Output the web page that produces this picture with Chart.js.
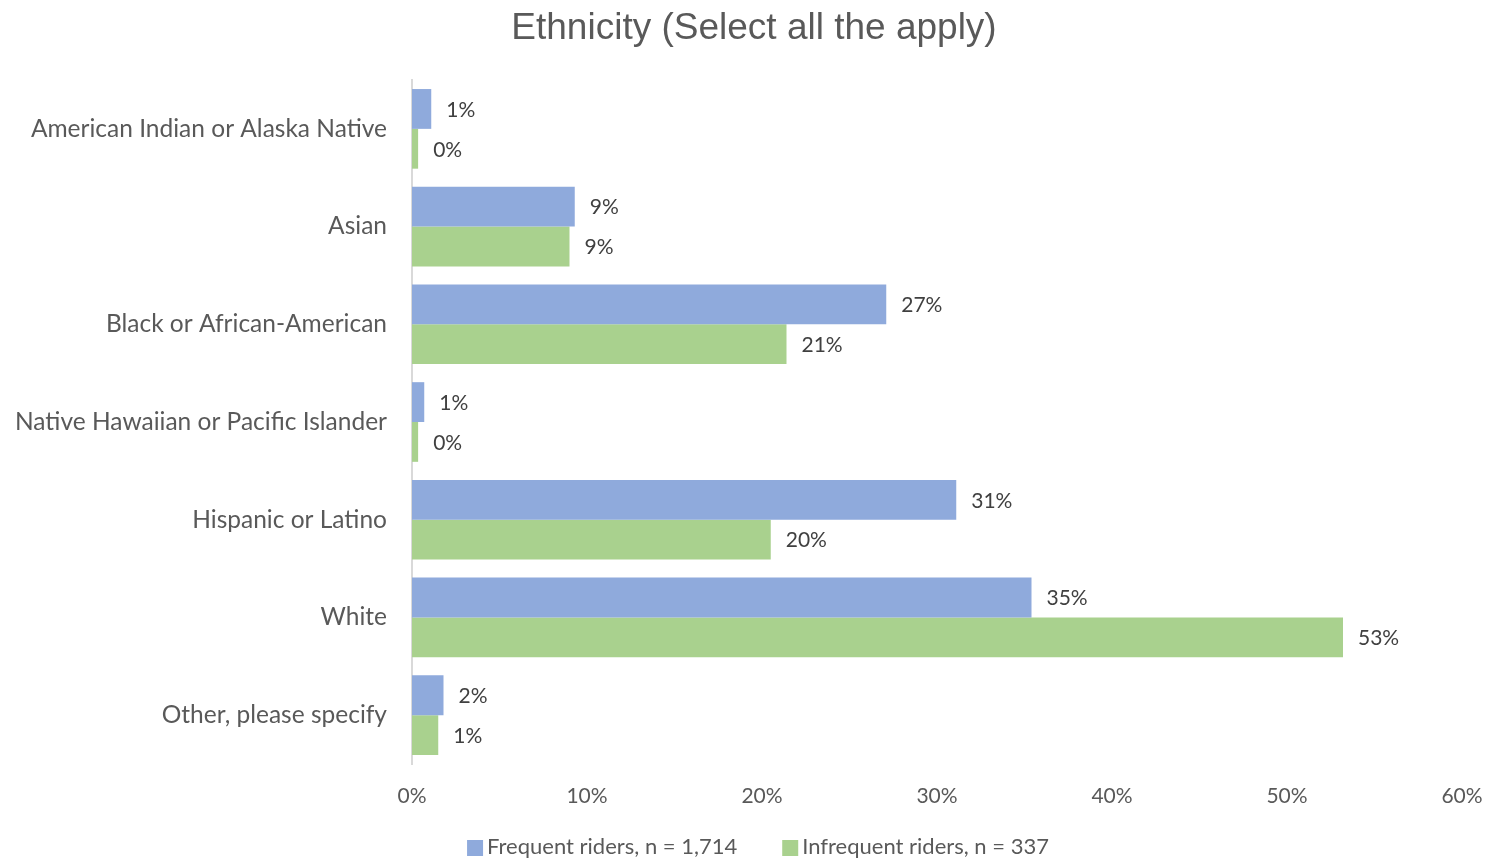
<!DOCTYPE html>
<html>
<head>
<meta charset="utf-8">
<script src="https://cdn.jsdelivr.net/npm/chart.js@4"></script>
<style>
html,body{margin:0;padding:0;background:#fff;}
#wrap{width:1491px;height:859px;position:relative;}
</style>
</head>
<body>
<div id="wrap"><canvas id="c" width="1491" height="859"></canvas></div>
<script>
const categories = [
  "American Indian or Alaska Native",
  "Asian",
  "Black or African-American",
  "Native Hawaiian or Pacific Islander",
  "Hispanic or Latino",
  "White",
  "Other, please specify"
];
const frequentRiders = [1.1, 9.3, 27.1, 0.7, 31.1, 35.4, 1.8];
const infrequentRiders = [0.35, 9.0, 21.4, 0.35, 20.5, 53.2, 1.5];
const frequentLabels = ["1%", "9%", "27%", "1%", "31%", "35%", "2%"];
const infrequentLabels = ["0%", "9%", "21%", "0%", "20%", "53%", "1%"];
const seriesNames = ["Frequent riders, n = 1,714", "Infrequent riders, n = 337"];
const seriesColors = ["#8faadc", "#a9d18e"];
const chartTitle = "Ethnicity (Select all the apply)";
const xTicks = [0, 10, 20, 30, 40, 50, 60];

const FONT = "Lato, 'Open Sans', sans-serif";
const labelSets = [frequentLabels, infrequentLabels];

const decorations = {
  id: 'decorations',
  afterDatasetsDraw(chart) {
    const ctx = chart.ctx;
    ctx.save();
    ctx.font = "21px " + FONT;
    ctx.fillStyle = "#404040";
    ctx.textBaseline = "middle";
    ctx.textAlign = "left";
    chart.data.datasets.forEach((ds, di) => {
      const meta = chart.getDatasetMeta(di);
      meta.data.forEach((bar, i) => {
        ctx.fillText(labelSets[di][i], bar.x + 15, bar.y + 1);
      });
    });
    ctx.restore();
  },
  afterDraw(chart) {
    const ctx = chart.ctx;
    ctx.save();
    ctx.font = "37px 'Liberation Sans', Arial, sans-serif";
    ctx.fillStyle = "#595959";
    ctx.textAlign = "center";
    ctx.textBaseline = "middle";
    ctx.fillText(chartTitle, 754, 29);
    ctx.font = "22px " + FONT;
    ctx.textAlign = "left";
    const y = 847;
    const box = 16, gap = 4, itemGap = 45;
    const widths = seriesNames.map(n => box + gap + ctx.measureText(n).width);
    const total = widths.reduce((a, b) => a + b, 0) + itemGap * (widths.length - 1);
    let x = 758 - total / 2;
    seriesNames.forEach((n, i) => {
      ctx.fillStyle = seriesColors[i];
      ctx.fillRect(x, y - box / 2 + 1, box, box);
      ctx.fillStyle = "#595959";
      ctx.fillText(n, x + box + gap, y);
      x += widths[i] + itemGap;
    });
    ctx.restore();
  }
};

new Chart(document.getElementById('c'), {
  type: 'bar',
  data: {
    labels: categories,
    datasets: [
      { label: seriesNames[0], data: frequentRiders, backgroundColor: seriesColors[0], borderWidth: 0 },
      { label: seriesNames[1], data: infrequentRiders, backgroundColor: seriesColors[1], borderWidth: 0 }
    ]
  },
  options: {
    indexAxis: 'y',
    responsive: false,
    animation: false,
    layout: { padding: { left: 0, right: 29, top: 80, bottom: 45 } },
    datasets: { bar: { categoryPercentage: 0.815, barPercentage: 1.0 } },
    plugins: {
      title: { display: false },
      legend: { display: false },
      tooltip: { enabled: false }
    },
    scales: {
      x: {
        min: 0, max: 60,
        afterBuildTicks(scale) { scale.ticks = xTicks.map(v => ({ value: v })); },
        grid: { display: false, drawTicks: false },
        border: { display: false },
        ticks: {
          color: '#595959',
          font: { family: FONT, size: 21 },
          padding: 20,
          callback: v => v + '%'
        },
        afterFit(scale) { scale.height = 50; scale.paddingLeft = 0; scale.paddingRight = 0; }
      },
      y: {
        grid: { display: false, drawTicks: false },
        border: { display: true, color: '#d9d9d9', width: 2 },
        ticks: {
          color: '#595959',
          font: { family: FONT, size: 24.5 },
          padding: 25
        },
        afterFit(scale) { scale.width = 412; scale.paddingTop = 0; scale.paddingBottom = 0; }
      }
    }
  },
  plugins: [decorations]
});
</script>
</body>
</html>
